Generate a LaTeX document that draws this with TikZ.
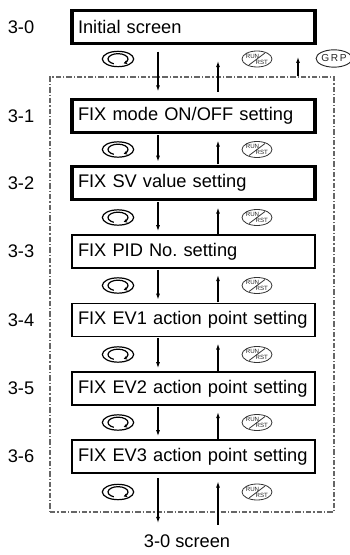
\documentclass[tikz,border=0pt]{standalone}
\usepackage{fontspec}
\setmainfont{Liberation Sans}
\usetikzlibrary{positioning, shapes.geometric, arrows.meta}
\frenchspacing

\begin{document}
\begin{tikzpicture}[x=0.75pt, y=-0.75pt,
  screen/.style={draw=black, line width=0.8pt, rectangle, minimum width=182.25pt, minimum height=24.75pt, text width=173.25pt, align=left, inner xsep=4.5pt, inner ysep=0pt, font=\fontsize{13.7}{16}\selectfont},
  screenbold/.style={screen, line width=2.3pt},
  stepno/.style={inner sep=0pt, font=\fontsize{13.7}{16}\selectfont},
  flow/.style={draw=black, line width=0.8pt, -{Latex[length=4.5pt, width=3pt]}},
  loopframe/.style={draw=black!60, line width=1pt, dash pattern=on 4pt off 1.5pt on 1pt off 1.5pt, rectangle, inner sep=0pt},
  knob/.style={draw=black, ellipse, line width=0.9pt, minimum width=23.5pt, minimum height=11.5pt, inner sep=0pt},
  spin/.style={draw=black, line width=0.9pt, -{Stealth[length=2.6pt, width=3pt]}},
  runkey/.style={draw=black!80, ellipse, line width=0.6pt, minimum width=22.5pt, minimum height=12pt, inner sep=0pt},
  keyslash/.style={draw=black!80, line width=0.6pt},
  keyfont/.style={inner sep=0pt, text=black!85, font=\fontsize{4.6}{4.6}\selectfont},
  grpkey/.style={draw=black!85, ellipse, line width=0.7pt, minimum width=21pt, minimum height=13pt, inner sep=0pt, text=black!85, font=\fontsize{7.6}{7.6}\selectfont}]
\useasboundingbox (0,0) rectangle (349,555);

% screens
\node[screenbold] (s0) at (193.5,27) {Initial screen};
\node[screenbold] (s1) at (193.5,116) {FIX mode ON/OFF setting};
\node[screenbold] (s2) at (193.5,183) {FIX SV value setting};
\node[screen] (s3) at (193.5,251.5) {FIX PID No. setting};
\node[screen] (s4) at (193.5,320) {FIX EV1 action point setting};
\node[screen] (s5) at (193.5,388.5) {FIX EV2 action point setting};
\node[screen] (s6) at (193.5,456.5) {FIX EV3 action point setting};
\foreach \k/\y in {0/27,1/116,2/183,3/251.5,4/320,5/388.5,6/456.5}
  \node[stepno] (l\k) at (21,\y) {3-\k};

\node[loopframe, minimum width=213pt, minimum height=326.25pt] (loop) at (192,294.5) {};
\node[stepno] (back) at (187,541) {3-0 screen};

% keys
\foreach \k/\y in {0/59,1/149.5,2/217.5,3/285.5,4/354.5,5/422.5,6/492} {
  \node[knob] (kn\k) at (118,\y) {};
  \draw[spin] ([shift={(245:7.5pt and 4pt)}]kn\k.center) arc[start angle=245, end angle=-55, x radius=7.5pt, y radius=4pt];
  \node[runkey] (rr\k) at (257,\y) {};
  \draw[keyslash] ([shift={(-6pt,-4.5pt)}]rr\k.center) -- ([shift={(6pt,4.5pt)}]rr\k.center);
  \node[keyfont] (ru\k) at ([shift={(-3.4pt,2.3pt)}]rr\k.center) {RUN};
  \node[keyfont] (rs\k) at ([shift={(3.6pt,-2.3pt)}]rr\k.center) {RST};
}
\node[grpkey] (grp) at (334,58.5) {G\,R\,P};

% arrows
\coordinate (dn) at (158,0);
\coordinate (up) at (218,0);
\coordinate (gtip) at (298,57);
\draw[flow, shorten <=5pt, shorten >=5pt] (s0.south -| dn) -- (s1.north -| dn);
\draw[flow, shorten <=4.5pt, shorten >=12pt] (s1.north -| up) -- (s0.south -| up);
\draw[flow] (loop.north -| gtip) -- (gtip);
\foreach \k/\n in {1/2,2/3,3/4,4/5,5/6} {
  \draw[flow, shorten <=1pt, shorten >=2.5pt] (s\k.south -| dn) -- (s\n.north -| dn);
  \draw[flow, shorten <=0.5pt, shorten >=5pt] (s\n.north -| up) -- (s\k.south -| up);
}
\draw[flow, shorten <=3.5pt, shorten >=8.5pt] (s6.south -| dn) -- (back.north -| dn);
\draw[flow, shorten <=7pt, shorten >=6pt] (back.north -| up) -- (s6.south -| up);
\end{tikzpicture}
\end{document}
